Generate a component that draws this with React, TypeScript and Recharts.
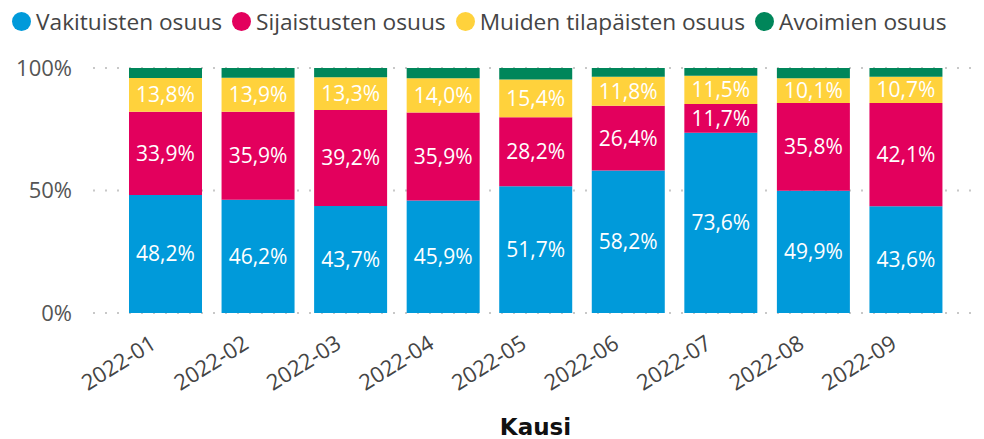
import React from 'react';
import { BarChart, Bar, XAxis, YAxis, CartesianGrid, LabelList } from 'recharts';

const categories = ['2022-01', '2022-02', '2022-03', '2022-04', '2022-05', '2022-06', '2022-07', '2022-08', '2022-09'];
const vakituisten = [48.2, 46.2, 43.7, 45.9, 51.7, 58.2, 73.6, 49.9, 43.6];
const sijaistusten = [33.9, 35.9, 39.2, 35.9, 28.2, 26.4, 11.7, 35.8, 42.1];
const muiden = [13.8, 13.9, 13.3, 14.0, 15.4, 11.8, 11.5, 10.1, 10.7];
const avoimien = [4.1, 4.0, 3.8, 4.2, 4.7, 3.6, 3.2, 4.2, 3.6];
const yTicks = [0, 50, 100];

const seriesNames = ['Vakituisten osuus', 'Sijaistusten osuus', 'Muiden tilapäisten osuus', 'Avoimien osuus'];
const seriesColors = ['#009ADA', '#E3005D', '#FFD23C', '#00865A'];

const data = categories.map((c, i) => ({
  kausi: c,
  vak: vakituisten[i],
  sij: sijaistusten[i],
  mui: muiden[i],
  avo: avoimien[i],
}));

const FONT = '"Open Sans", "Noto Sans", sans-serif';
const fmt = (v: any) => `${Number(v).toFixed(1).replace('.', ',')}%`;

const XTick = (props: any) => {
  const { x, y, payload } = props;
  return (
    <g transform={`translate(${x - 16},${y + 13}) rotate(-32)`}>
      <text x={0} y={0} dy="0.72em" textAnchor="end" fill="#444" fontSize={22} fontFamily={FONT}>
        {payload.value}
      </text>
    </g>
  );
};

const labelStyle = { fill: '#fff', fontSize: 21, fontFamily: FONT };

const LegendBox = () => (
  <div
    style={{
      position: 'absolute',
      left: 12,
      top: 6,
      display: 'flex',
      alignItems: 'center',
      fontFamily: FONT,
      fontSize: 22.7,
      color: '#444',
      whiteSpace: 'nowrap',
    }}
  >
    {seriesNames.map((n, i) => (
      <div key={n} style={{ display: 'flex', alignItems: 'center', marginRight: 10 }}>
        <span
          style={{
            display: 'inline-block',
            width: 19,
            height: 19,
            borderRadius: '50%',
            background: seriesColors[i],
            marginRight: 5,
          }}
        />
        <span>{n}</span>
      </div>
    ))}
  </div>
);

export default function App() {
  return (
    <div style={{ position: 'absolute', left: 0, top: 0, width: 984, height: 439, background: '#fff' }}>
      <LegendBox />
      <BarChart
        width={984}
        height={439}
        data={data}
        margin={{ top: 68, right: 6, left: 0, bottom: 0 }}
        barCategoryGap={10}
      >
        <CartesianGrid vertical={false} stroke="#c8c8c8" strokeWidth={2} strokeDasharray="2 10" />
        <XAxis
          dataKey="kausi"
          axisLine={false}
          tickLine={false}
          interval={0}
          height={126}
          padding={{ left: 26, right: 26 }}
          tick={<XTick />}
          label={{ value: 'Kausi', position: 'insideBottom', offset: 4, fill: '#111', fontSize: 23, fontWeight: 700, fontFamily: '"DejaVu Sans", sans-serif' }}
        />
        <YAxis
          width={93}
          domain={[0, 100]}
          ticks={yTicks}
          axisLine={false}
          tickLine={false}
          tickFormatter={(v: any) => `${v}%`}
          tick={{ fill: '#555', fontSize: 22, fontFamily: FONT }}
          tickMargin={15}
        />
        <Bar dataKey="vak" name={seriesNames[0]} stackId="a" fill={seriesColors[0]} isAnimationActive={false}>
          <LabelList dataKey="vak" position="center" formatter={fmt} style={labelStyle} />
        </Bar>
        <Bar dataKey="sij" name={seriesNames[1]} stackId="a" fill={seriesColors[1]} isAnimationActive={false}>
          <LabelList dataKey="sij" position="center" formatter={fmt} style={labelStyle} />
        </Bar>
        <Bar dataKey="mui" name={seriesNames[2]} stackId="a" fill={seriesColors[2]} isAnimationActive={false}>
          <LabelList dataKey="mui" position="center" formatter={fmt} style={labelStyle} />
        </Bar>
        <Bar dataKey="avo" name={seriesNames[3]} stackId="a" fill={seriesColors[3]} isAnimationActive={false} />
      </BarChart>
    </div>
  );
}
